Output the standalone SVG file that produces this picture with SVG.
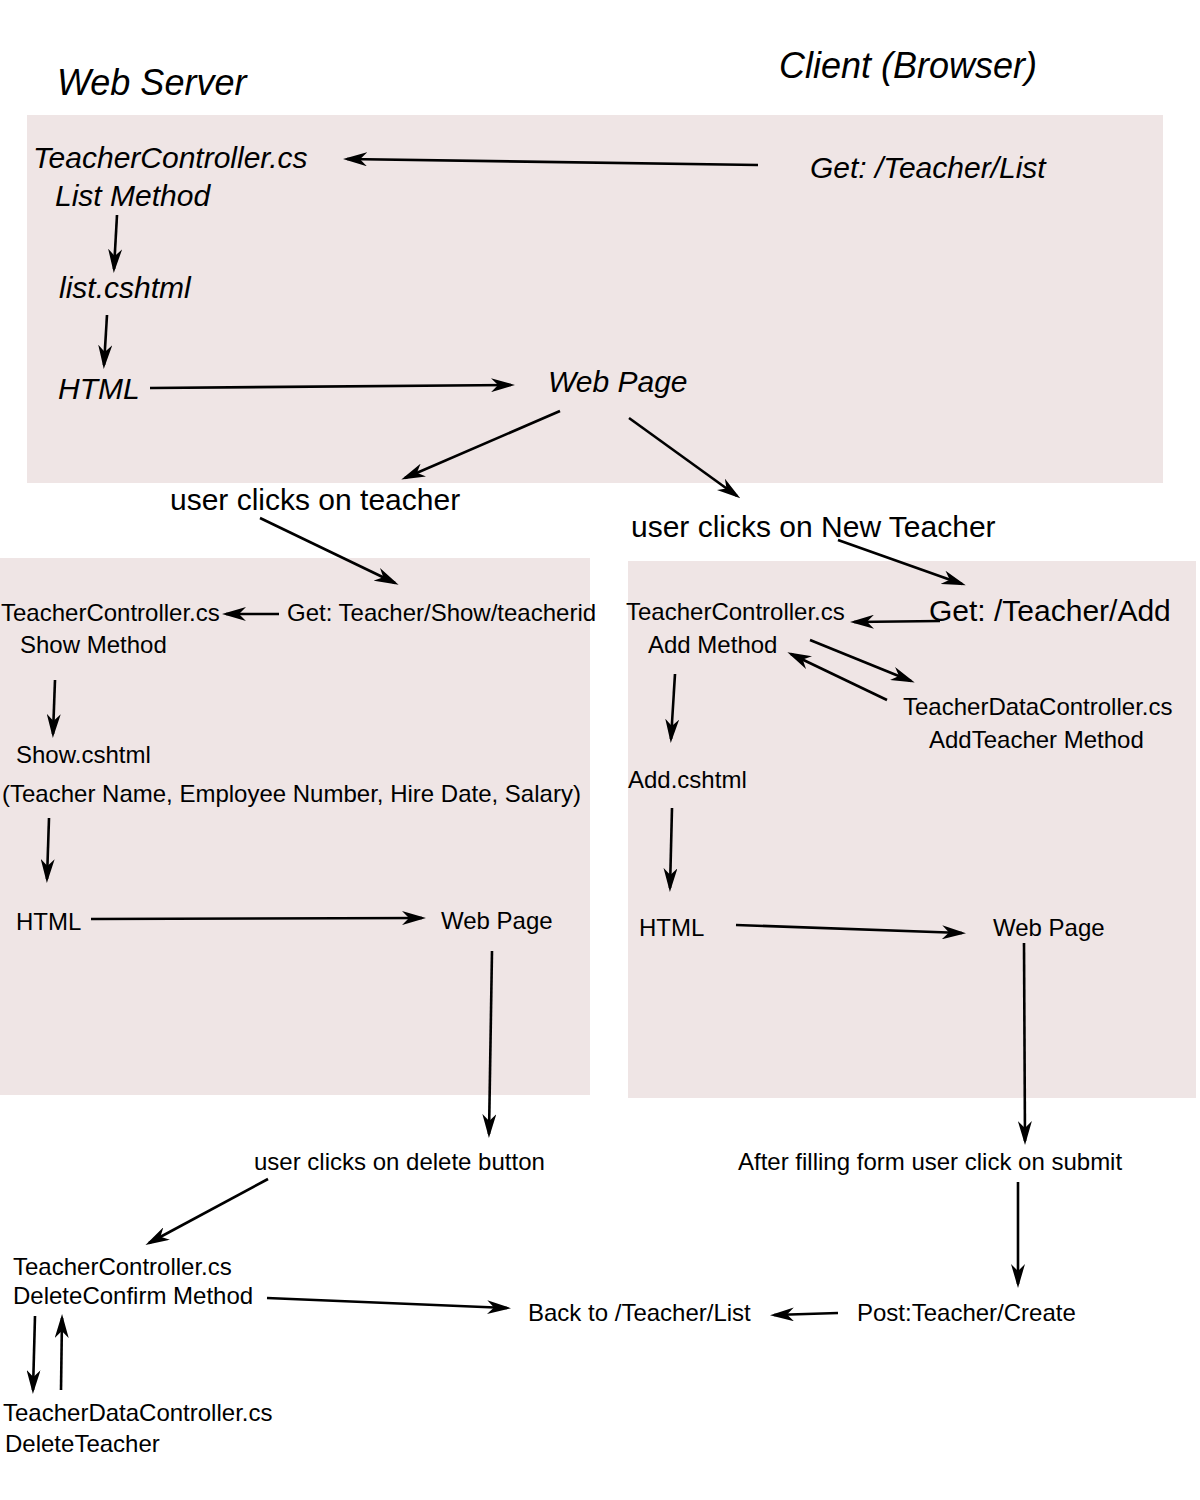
<svg xmlns="http://www.w3.org/2000/svg" width="1200" height="1500" viewBox="0 0 1200 1500">
<style>
.panel{fill:#efe5e5}
.t{font-family:"Liberation Sans",Arial,sans-serif;fill:#000}
.it{font-style:italic;font-size:30px}
.big{font-size:30px}
.md{font-size:24px}
.hd{font-style:italic;font-size:36px}
.c line{stroke:#000;stroke-width:2.6;marker-end:url(#ah)}
</style>
<defs>
<marker id="ah" markerUnits="userSpaceOnUse" markerWidth="24" markerHeight="14" viewBox="0 0 24 14" refX="20" refY="7" orient="auto">
<path d="M0,0 L24,7 L0,14 L7,7 z" fill="#000"/>
</marker>
</defs>
<rect width="1200" height="1500" fill="#fff"/>
<g id="panels">
<rect class="panel" x="27" y="115" width="1136" height="368"/>
<rect class="panel" x="0" y="558" width="590" height="537"/>
<rect class="panel" x="628" y="561" width="568" height="537"/>
</g>
<g id="headers">
<text class="t hd" x="57" y="95">Web Server</text>
<text class="t hd" x="779" y="78">Client (Browser)</text>
</g>
<g id="n-tc-list"><text class="t it" x="33" y="168">TeacherController.cs</text><text class="t it" x="55" y="206">List Method</text></g>
<g id="n-get-list"><text class="t it" x="810" y="178">Get: /Teacher/List</text></g>
<g id="n-list-cshtml"><text class="t it" x="59" y="298">list.cshtml</text></g>
<g id="n-html1"><text class="t it" x="58" y="399">HTML</text></g>
<g id="n-webpage1"><text class="t it" x="548" y="392">Web Page</text></g>
<g id="n-click-teacher"><text class="t big" x="170" y="510">user clicks on teacher</text></g>
<g id="n-click-new"><text class="t big" x="631" y="537">user clicks on New Teacher</text></g>
<g id="n-tc-show"><text class="t md" x="1" y="621">TeacherController.cs</text><text class="t md" x="20" y="653">Show Method</text></g>
<g id="n-get-show"><text class="t md" x="287" y="621">Get: Teacher/Show/teacherid</text></g>
<g id="n-show-cshtml"><text class="t md" x="16" y="763">Show.cshtml</text><text class="t md" x="2" y="802">(Teacher Name, Employee Number, Hire Date, Salary)</text></g>
<g id="n-html2"><text class="t md" x="16" y="930">HTML</text></g>
<g id="n-webpage2"><text class="t md" x="441" y="929">Web Page</text></g>
<g id="n-tc-add"><text class="t md" x="626" y="620">TeacherController.cs</text><text class="t md" x="648" y="653">Add Method</text></g>
<g id="n-get-add"><text class="t big" x="929" y="621">Get: /Teacher/Add</text></g>
<g id="n-tdc-add"><text class="t md" x="903" y="715">TeacherDataController.cs</text><text class="t md" x="929" y="748">AddTeacher Method</text></g>
<g id="n-add-cshtml"><text class="t md" x="628" y="788">Add.cshtml</text></g>
<g id="n-html3"><text class="t md" x="639" y="936">HTML</text></g>
<g id="n-webpage3"><text class="t md" x="993" y="936">Web Page</text></g>
<g id="n-click-delete"><text class="t md" x="254" y="1170">user clicks on delete button</text></g>
<g id="n-submit"><text class="t md" x="738" y="1170">After filling form user click on submit</text></g>
<g id="n-tc-delete"><text class="t md" x="13" y="1275">TeacherController.cs</text><text class="t md" x="13" y="1304">DeleteConfirm Method</text></g>
<g id="n-back"><text class="t md" x="528" y="1321">Back to /Teacher/List</text></g>
<g id="n-post"><text class="t md" x="857" y="1321">Post:Teacher/Create</text></g>
<g id="n-tdc-delete"><text class="t md" x="3" y="1421">TeacherDataController.cs</text><text class="t md" x="5" y="1452">DeleteTeacher</text></g>
<g id="connectors" class="c">
<line x1="758" y1="165" x2="347" y2="159"/>
<line x1="117" y1="215" x2="114" y2="269"/>
<line x1="107" y1="315" x2="104" y2="365"/>
<line x1="150" y1="388" x2="511" y2="385"/>
<line x1="560" y1="411" x2="405" y2="478"/>
<line x1="629" y1="418" x2="737" y2="496"/>
<line x1="260" y1="518" x2="395" y2="583"/>
<line x1="279" y1="614" x2="226" y2="614"/>
<line x1="838" y1="540" x2="962" y2="584"/>
<line x1="940" y1="621" x2="854" y2="622"/>
<line x1="810" y1="640" x2="911" y2="681"/>
<line x1="887" y1="700" x2="791" y2="654"/>
<line x1="55" y1="680" x2="53" y2="734"/>
<line x1="49" y1="818" x2="47" y2="879"/>
<line x1="675" y1="674" x2="671" y2="739"/>
<line x1="672" y1="808" x2="670" y2="888"/>
<line x1="91" y1="919" x2="422" y2="918"/>
<line x1="736" y1="925" x2="962" y2="933"/>
<line x1="492" y1="951" x2="489" y2="1134"/>
<line x1="1024" y1="943" x2="1025" y2="1141"/>
<line x1="268" y1="1179" x2="149" y2="1243"/>
<line x1="1018" y1="1182" x2="1018" y2="1284"/>
<line x1="267" y1="1298" x2="507" y2="1308"/>
<line x1="838" y1="1313" x2="774" y2="1315"/>
<line x1="35" y1="1316" x2="33" y2="1390"/>
<line x1="61" y1="1390" x2="62" y2="1318"/>
</g>
</svg>
